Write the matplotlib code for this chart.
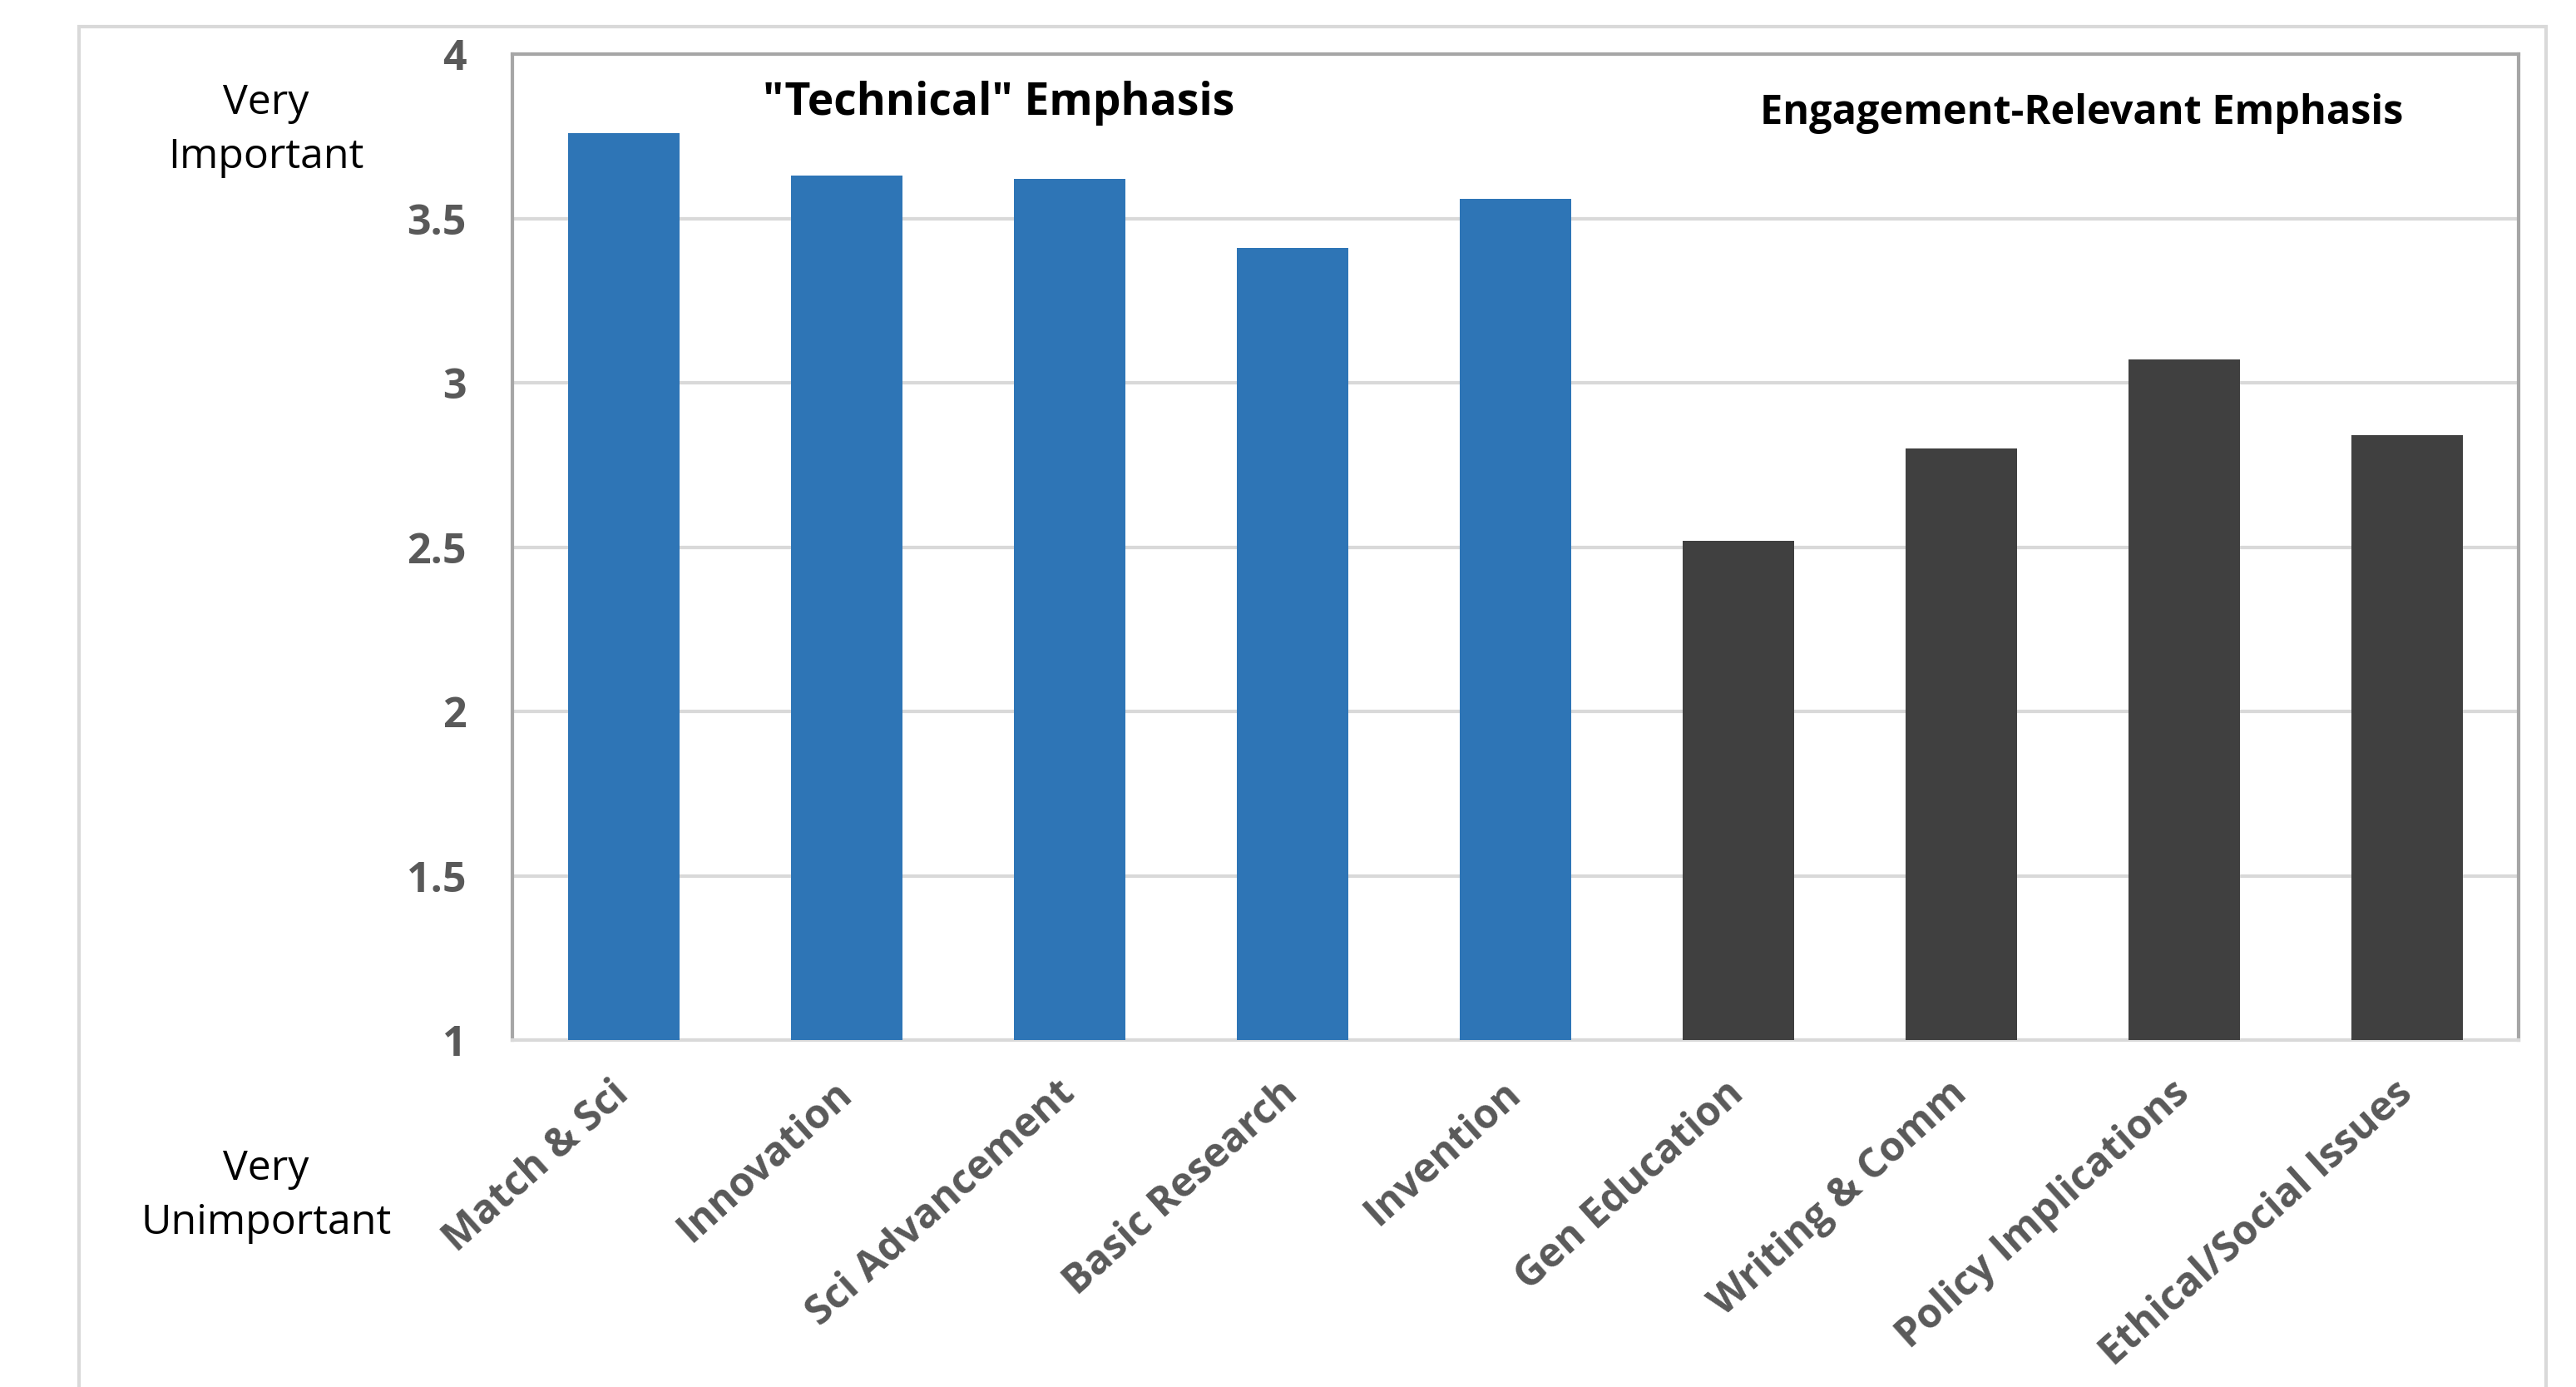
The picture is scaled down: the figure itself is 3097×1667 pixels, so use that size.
import numpy as np
import matplotlib.pyplot as plt
from matplotlib.patches import Rectangle


# Data
categories = ['Match & Sci', 'Innovation', 'Sci Advancement', 'Basic Research', 'Invention',
              'Gen Education', 'Writing & Comm', 'Policy Implications', 'Ethical/Social Issues']
scores = [3.76, 3.63, 3.62, 3.41, 3.56, 2.52, 2.80, 3.07, 2.84]
groups = ['technical'] * 5 + ['engagement'] * 4
y_ticks = [1, 1.5, 2, 2.5, 3, 3.5, 4]
y_tick_labels = ['1', '1.5', '2', '2.5', '3', '3.5', '4']

group_colors = {'technical': '#2E75B6', 'engagement': '#404040'}


def save_chart(file_path):
    """
    Draw the importance bar chart and save it.

    Parameters:
    - file_path: File path where the image will be saved.
    """
    plt.rcParams['font.family'] = ['Open Sans', 'DejaVu Sans']
    fig = plt.figure(figsize=(30.97, 16.67), dpi=100)
    ax = fig.add_axes([0.1989, 0.2501, 0.7788, 0.7109])

    # outer chart frame
    fig.patches.append(Rectangle((0.0307, -0.05), 0.9577, 1.031, transform=fig.transFigure,
                                 fill=False, edgecolor='#D9D9D9', linewidth=3))

    x = np.arange(len(categories))
    colors = [group_colors[g] for g in groups]
    ax.bar(x, scores, width=0.5, color=colors, zorder=3)

    ax.set_xlim(-0.5, len(categories) - 0.5)
    ax.set_ylim(1, 4)
    ax.set_yticks(y_ticks)
    ax.set_yticklabels(y_tick_labels, fontsize=36, fontweight='bold', color='#595959')
    ax.yaxis.grid(True, color='#D9D9D9', linewidth=3, zorder=0)
    ax.tick_params(axis='y', length=0, pad=40)

    ax.set_xticks(x)
    ax.set_xticklabels(categories, rotation=42, ha='right', va='center', rotation_mode='anchor',
                       fontsize=35, fontweight='bold', color='#595959')
    ax.tick_params(axis='x', length=0, pad=42)

    for side in ['left', 'top', 'right']:
        ax.spines[side].set_color('#A6A6A6')
        ax.spines[side].set_linewidth(3)
    ax.spines['bottom'].set_color('#D9D9D9')
    ax.spines['bottom'].set_linewidth(3)

    # group annotations
    ax.text(1.68, 3.85, '"Technical" Emphasis', ha='center', va='center',
            fontsize=38.5, fontweight='bold', color='black')
    ax.text(6.54, 3.82, 'Engagement-Relevant Emphasis', ha='center', va='center',
            fontsize=35, fontweight='bold', color='black')

    # scale end labels
    fig.text(0.1033, 0.906, 'Very\nImportant', ha='center', va='center',
             fontsize=36, color='black', linespacing=1.4)
    fig.text(0.1033, 0.1375, 'Very\nUnimportant', ha='center', va='center',
             fontsize=36, color='black', linespacing=1.4)

    fig.savefig(file_path, dpi=100, facecolor='white')
    plt.close(fig)


save_chart('out.png')
